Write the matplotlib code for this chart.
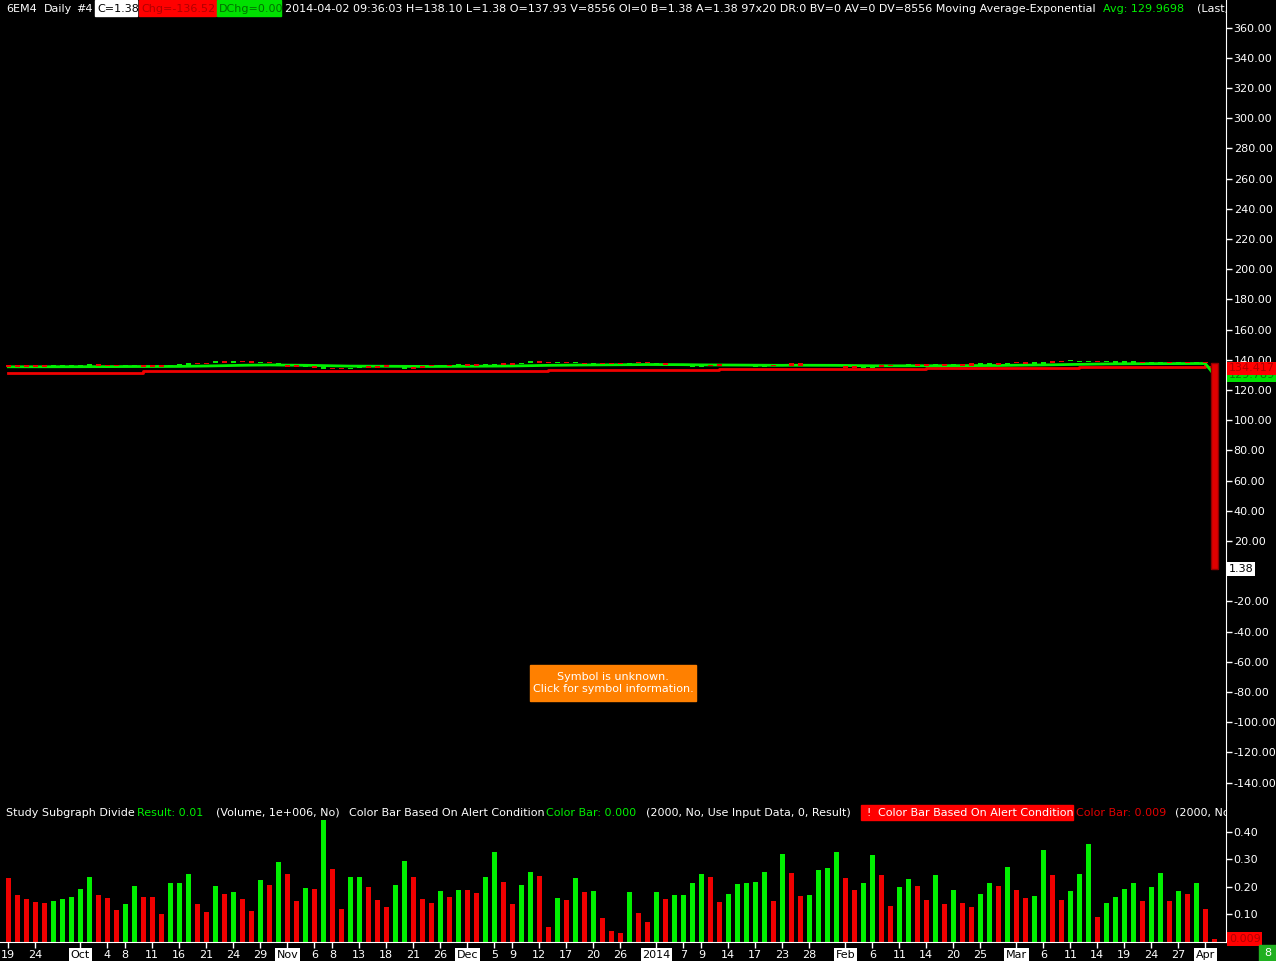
import matplotlib
matplotlib.use("Agg")
import matplotlib.pyplot as plt
from matplotlib.patches import Rectangle
from matplotlib.ticker import FuncFormatter

W, H = 1276, 961
RIGHT = 1226   # pixel x of the price scale line
SPLIT = 800    # pixel y where the volume pane starts
BASE = 941.5   # pixel y of the time axis

GREEN = "#00f000"
RED = "#f00000"

# daily bars, 2013-09-19 .. 2014-04-02
volume = [
    0.232, 0.169, 0.155, 0.144, 0.140, 0.147, 0.155, 0.162, 0.191, 0.235,
    0.169, 0.158, 0.114, 0.136, 0.202, 0.162, 0.162, 0.100, 0.213, 0.213,
    0.246, 0.136, 0.107, 0.202, 0.173, 0.180, 0.155, 0.111, 0.224, 0.206,
    0.290, 0.246, 0.147, 0.195, 0.191, 0.443, 0.264, 0.118, 0.235, 0.235,
    0.198, 0.151, 0.125, 0.206, 0.293, 0.235, 0.155, 0.140, 0.184, 0.162,
    0.187, 0.187, 0.176, 0.235, 0.326, 0.217, 0.136, 0.206, 0.253, 0.238,
    0.052, 0.158, 0.151, 0.231, 0.180, 0.184, 0.085, 0.038, 0.030, 0.180,
    0.103, 0.071, 0.180, 0.155, 0.169, 0.169, 0.213, 0.246, 0.235, 0.144,
    0.173, 0.209, 0.213, 0.217, 0.253, 0.147, 0.319, 0.249, 0.165, 0.169,
    0.260, 0.268, 0.326, 0.231, 0.187, 0.213, 0.315, 0.242, 0.129, 0.198,
    0.227, 0.202, 0.151, 0.242, 0.136, 0.187, 0.140, 0.125, 0.173, 0.213,
    0.202, 0.271, 0.187, 0.158, 0.165, 0.333, 0.242, 0.151, 0.184, 0.246,
    0.355, 0.089, 0.140, 0.162, 0.191, 0.213, 0.147, 0.198, 0.249, 0.147,
    0.184, 0.173, 0.213, 0.118, 0.009,
]

bar_dir = ("RRRRRGGGGG" "RRRGGRRRGG" "GRRGRGRRGR" "GRRGRGRRGG" "RRRGGRRRGR"
           "GRRGGRRGGR" "RGRGRGRRRG" "RRGRGGGGRR" "GGGGGRGRRG" "GGGRRGGRRG"
           "GRRGRGRRGG" "RGRRGGRRGG" "GRGGGGRGGR" "GRGRR")

close = [
    135.4, 135.8, 135.3, 135.3, 135.4, 135.3, 135.4, 135.5, 136.2, 136.0,
    136.0, 135.9, 135.7, 135.7, 135.7, 135.4, 135.3, 135.7, 136.0, 136.6,
    137.0, 137.0, 138.0, 138.0, 138.0, 138.4, 138.4, 138.0, 137.6, 137.6,
    135.8, 135.3, 135.3, 135.7, 134.8, 134.2, 133.8, 133.8, 134.6, 135.3,
    134.9, 135.3, 135.7, 136.2, 134.2, 134.6, 135.7, 135.7, 135.7, 136.2,
    136.2, 136.2, 136.2, 136.2, 136.6, 136.6, 137.1, 138.0, 138.0, 138.0,
    137.6, 137.6, 137.6, 138.0, 137.1, 137.1, 137.1, 137.1, 137.1, 138.0,
    137.6, 138.0, 136.6, 136.6, 136.2, 136.6, 135.3, 135.7, 136.2, 136.2,
    136.2, 136.2, 136.2, 135.3, 135.7, 135.7, 135.7, 137.8, 136.2, 136.2,
    136.2, 136.2, 135.7, 134.9, 134.9, 134.9, 135.3, 135.7, 135.9, 136.0,
    136.2, 136.2, 136.2, 136.2, 136.2, 136.2, 136.2, 137.6, 136.6, 136.6,
    137.0, 138.0, 137.6, 137.3, 137.3, 138.0, 138.4, 138.9, 138.9, 138.4,
    138.9, 138.4, 138.4, 138.2, 138.4, 138.0, 137.6, 137.8, 138.0, 137.6,
    137.8, 137.9, 137.7, 137.93, 1.38,
]
last_open = 137.93

# slow red average
slow_x = [0, 15, 35, 60, 79, 102, 119, 133, 134]
slow_y = [131.3, 132.5, 132.8, 133.5, 134.1, 134.7, 135.4, 135.6, 134.417]

tick_pos = [0, 3, 8, 11, 13, 16, 19, 22, 25, 28, 31, 34, 36, 39, 42, 45, 48,
            51, 54, 56, 59, 62, 65, 68, 72, 75, 77, 80, 83, 86, 89, 93, 96, 99,
            102, 105, 108, 112, 115, 118, 121, 124, 127, 130, 133]
tick_lbl = ["19", "24", "Oct", "4", "8", "11", "16", "21", "24", "29", "Nov",
            "6", "8", "13", "18", "21", "26", "Dec", "5", "9", "12", "17", "20",
            "26", "2014", "7", "9", "14", "17", "23", "28", "Feb", "6", "11",
            "14", "20", "25", "Mar", "6", "11", "14", "19", "24", "27", "Apr"]
months = {"Oct", "Nov", "Dec", "2014", "Feb", "Mar", "Apr"}

# exponential moving average of the closes
ema_len = 34
alpha = 2 / (ema_len + 1)
ema = [close[0]]
for c in close[1:]:
    ema.append(ema[-1] + alpha * (c - ema[-1]))

plt.rcParams["font.family"] = "DejaVu Sans"
plt.rcParams["font.size"] = 8

fig = plt.figure(figsize=(W / 100, H / 100), dpi=100, facecolor="black")
ax = fig.add_axes([0, (H - SPLIT) / H, RIGHT / W, SPLIT / H], facecolor="black")
axv = fig.add_axes([0, (H - BASE) / H, RIGHT / W, (BASE - SPLIT) / H], facecolor="black")

xmin, xmax = -0.922, 135.29
n = len(close)
x = list(range(n))

# ---- price pane
ax.plot(slow_x[:-1], slow_y[:-1], drawstyle="steps-post", color=RED, lw=2, zorder=2)
ax.plot(slow_x[-2:], slow_y[-2:], color=RED, lw=2, zorder=2)
ax.plot(x, ema, color=GREEN, lw=2, zorder=3)

opens = [close[0]] + close[:-2] + [last_open]
bottoms, heights, cols = [], [], []
for i in range(n - 1):
    lo, hi = sorted((opens[i], close[i]))
    bottoms.append(lo)
    heights.append(max(hi - lo, 1.0))
    cols.append(GREEN if bar_dir[i] == "G" else RED)
ax.bar(x[:-1], heights, bottom=bottoms, width=0.6, color=cols, zorder=4)
ax.bar(n - 1, last_open - close[-1], bottom=close[-1], width=0.75,
       color="#e00000", edgecolor="#900000", lw=1, zorder=4)

ax.set_xlim(xmin, xmax)
ax.set_ylim(-151.5, 378.3)
ax.set_yticks(range(-140, 361, 20))
ax.yaxis.set_major_formatter(FuncFormatter(lambda v, p: "" if v == 0 else f"{v:.2f}"))
ax.yaxis.tick_right()
ax.tick_params(axis="y", colors="white", length=4, width=1, pad=1.5, labelsize=8)
ax.tick_params(axis="x", bottom=False, labelbottom=False)
for s in ("top", "left", "bottom"):
    ax.spines[s].set_visible(False)
ax.spines["right"].set_color("white")

# ---- volume pane
vcols = [GREEN if d == "G" else RED for d in bar_dir]
axv.bar(x, volume, width=0.56, color=vcols)
axv.set_xlim(xmin, xmax)
axv.set_ylim(0, (BASE - SPLIT) / 274)
axv.set_yticks([0.1, 0.2, 0.3, 0.4])
axv.yaxis.set_major_formatter(FuncFormatter(lambda v, p: f"{v:.2f}"))
axv.yaxis.tick_right()
axv.tick_params(axis="y", colors="white", length=4, width=1, pad=1.5, labelsize=8)
axv.set_xticks(tick_pos)
axv.set_xticklabels(tick_lbl)
axv.tick_params(axis="x", colors="white", length=4, width=1, pad=2, labelsize=8)
for lbl in axv.get_xticklabels():
    if lbl.get_text() in months:
        lbl.set_color("black")
        lbl.set_bbox(dict(facecolor="white", edgecolor="none", boxstyle="square,pad=0.15"))
for s in ("top", "left"):
    axv.spines[s].set_visible(False)
axv.spines["right"].set_color("white")
axv.spines["bottom"].set_color("white")


def pane_text(axis, top, bottom, px, py, s, **kw):
    return axis.text(px / RIGHT, (bottom - py) / (bottom - top), s,
                     transform=axis.transAxes, va="center", ha="left",
                     clip_on=True, zorder=10, **kw)


def pane_box(axis, top, bottom, x0, y0, x1, y1, color):
    axis.add_patch(Rectangle((x0 / RIGHT, (bottom - y1) / (bottom - top)),
                             (x1 - x0) / RIGHT, (y1 - y0) / (bottom - top),
                             transform=axis.transAxes, color=color, zorder=9))


# header line
header = [
    (6, "6EM4", "white"), (44, "Daily", "white"), (76, "#4", "white"),
    (97, "C=1.38", "black"), (141, "Chg=-136.52", "#b00000"),
    (219, "DChg=0.00", "#007000"),
    (285, "2014-04-02 09:36:03 H=138.10 L=1.38 O=137.93 V=8556 OI=0 B=1.38 "
          "A=1.38 97x20 DR:0 BV=0 AV=0 DV=8556 Moving Average-Exponential", "white"),
    (1103, "Avg: 129.9698", GREEN), (1197, "(Last, 34, 0)", "white"),
]
pane_box(ax, 0, SPLIT, 95, 0, 137, 16, "white")
pane_box(ax, 0, SPLIT, 139, 0, 216, 16, "#ff0000")
pane_box(ax, 0, SPLIT, 217, 0, 281, 16, "#00e000")
for px, s, c in header:
    pane_text(ax, 0, SPLIT, px, 8.5, s, color=c)

# volume study line
study = [
    (6, "Study Subgraph Divide", "white"), (137, "Result: 0.01", GREEN),
    (216, "(Volume, 1e+006, No)", "white"),
    (349, "Color Bar Based On Alert Condition", "white"),
    (546, "Color Bar: 0.000", GREEN),
    (646, "(2000, No, Use Input Data, 0, Result)", "white"),
    (866, "!", "white"), (878, "Color Bar Based On Alert Condition", "white"),
    (1076, "Color Bar: 0.009", "#e00000"), (1175, "(2000, No, Use Input Data)", "white"),
]
pane_box(axv, SPLIT, BASE, 861, 805, 1073, 820, "#ff0000")
for px, s, c in study:
    pane_text(axv, SPLIT, BASE, px, 812.5, s, color=c)

# unknown symbol notice
pane_box(ax, 0, SPLIT, 530, 665, 696, 701, "#ff8000")
ax.text(613 / RIGHT, (SPLIT - 683) / SPLIT, "Symbol is unknown.\nClick for symbol information.",
        transform=ax.transAxes, ha="center", va="center", color="white",
        fontsize=8, linespacing=1.3, zorder=10)

# value markers on the price scale
lx = 1229 / RIGHT
ax.text(lx, ema[-1], f"{ema[-1]:.3f}", transform=ax.get_yaxis_transform(),
        color="#008000", va="center", ha="left", clip_on=False, zorder=11,
        bbox=dict(facecolor="#00e000", edgecolor="none", boxstyle="square,pad=0.15"))
ax.text(lx, slow_y[-1], f"{slow_y[-1]:.3f}", transform=ax.get_yaxis_transform(),
        color="#b00000", va="center", ha="left", clip_on=False, zorder=12,
        bbox=dict(facecolor="#ff0000", edgecolor="none", boxstyle="square,pad=0.15"))
ax.text(lx, close[-1], f"{close[-1]:.2f}", transform=ax.get_yaxis_transform(),
        color="black", va="center", ha="left", clip_on=False, zorder=12,
        bbox=dict(facecolor="white", edgecolor="none", boxstyle="square,pad=0.15"))
axv.text(lx, volume[-1], f"{volume[-1]:.3f}", transform=axv.get_yaxis_transform(),
         color="#b00000", va="center", ha="left", clip_on=False, zorder=12,
         bbox=dict(facecolor="#ff0000", edgecolor="none", boxstyle="square,pad=0.15"))

fig.patches.append(Rectangle((1259 / W, 0), 17 / W, 16 / H, transform=fig.transFigure,
                             color="#20b020", zorder=5))
fig.text(1267.5 / W, 8 / H, "8", color="white", ha="center", va="center",
         fontsize=8, zorder=6)

fig.savefig("out.png", dpi=100, facecolor="black")
